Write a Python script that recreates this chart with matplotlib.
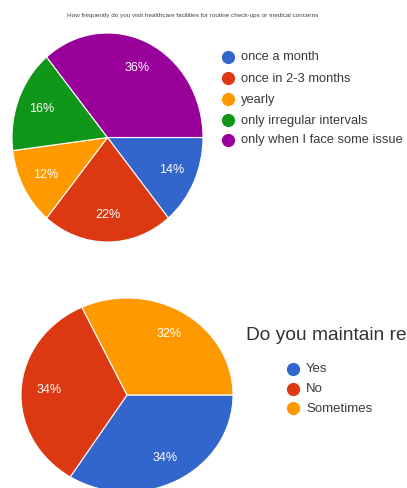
import matplotlib
matplotlib.use("Agg")
import matplotlib.pyplot as plt
from matplotlib.lines import Line2D

plt.rcParams['font.family'] = ['Liberation Sans', 'DejaVu Sans']

# ---- data ----
title1 = "How frequently do you visit healthcare facilities for routine check-ups or medical concerns"
cats1 = ["once a month", "once in 2-3 months", "yearly", "only irregular intervals",
         "only when I face some issue"]
vals1 = [14, 22, 12, 16, 36]
colors1 = ["#3366cc", "#dc3912", "#ff9900", "#109618", "#990099"]

title2 = "Do you maintain re"  # visible part of the (cut-off) title in the reference
cats2 = ["Yes", "No", "Sometimes"]
vals2 = [34, 34, 32]
colors2 = ["#3366cc", "#dc3912", "#ff9900"]

W, H = 407, 488
fig = plt.figure(figsize=(W / 100, H / 100), dpi=100)


def px_axes(left, top, right, bottom):
    return fig.add_axes([left / W, 1 - bottom / H, (right - left) / W, (bottom - top) / H])


def fx(x):
    return x / W


def fy(y):
    return 1 - y / H


def draw_pie(ax, vals, colors):
    ax.pie(vals, colors=colors, startangle=0, counterclock=False, radius=1,
           autopct=lambda p: f"{p:.0f}%", pctdistance=0.74,
           wedgeprops=dict(edgecolor="white", linewidth=0.8),
           textprops=dict(color="white", fontsize=9))
    ax.set_aspect("auto")
    ax.set_xlim(-1, 1)
    ax.set_ylim(-1, 1)
    ax.axis("off")


# top pie
ax1 = px_axes(12, 33, 203, 242)
draw_pie(ax1, vals1, colors1)

# bottom pie
ax2 = px_axes(21, 298, 233, 492)
draw_pie(ax2, vals2, colors2)

# figure title (tiny)
fig.text(fx(193), fy(15), title1, fontsize=4.6, color="#444444", ha="center", va="center")

# top legend
leg1_y = [57, 78, 99, 120, 140]
for c, lab, y in zip(colors1, cats1, leg1_y):
    fig.add_artist(Line2D([fx(228)], [fy(y)], marker="o", markersize=8.5, color=c,
                          linestyle="none", transform=fig.transFigure))
    fig.text(fx(241), fy(y + 3.5), lab, fontsize=9.3, color="#3a3a3a", ha="left",
             va="baseline")

# bottom title + legend
fig.text(fx(246), fy(336), title2, fontsize=13.8, color="#333333", ha="left", va="center")
leg2_y = [369, 389, 408]
for c, lab, y in zip(colors2, cats2, leg2_y):
    fig.add_artist(Line2D([fx(293)], [fy(y)], marker="o", markersize=8.5, color=c,
                          linestyle="none", transform=fig.transFigure))
    fig.text(fx(306), fy(y + 3.5), lab, fontsize=9.5, color="#3a3a3a", ha="left",
             va="baseline")

fig.savefig("out.png", dpi=100)
